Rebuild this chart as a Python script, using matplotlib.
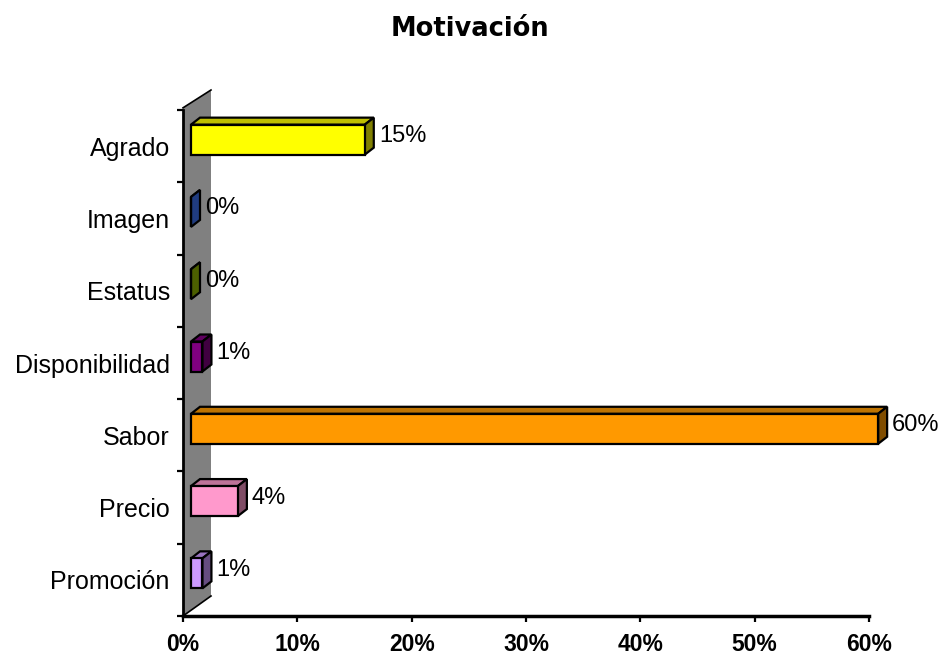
import matplotlib
matplotlib.use("Agg")
import matplotlib.pyplot as plt
from matplotlib.patches import Polygon
import numpy as np

# ---- data ----
categories = ["Agrado", "Imagen", "Estatus", "Disponibilidad", "Sabor", "Precio", "Promoción"]
values = [15.2, 0.0, 0.0, 1.0, 60.1, 4.1, 1.0]
value_labels = ["15%", "0%", "0%", "1%", "60%", "4%", "1%"]
xticks = [0, 10, 20, 30, 40, 50, 60]
xtick_labels = ["0%", "10%", "20%", "30%", "40%", "50%", "60%"]
front_colors = ["#FFFF00", "#4078FF", "#98BE00", "#800080", "#FF9900", "#FF99CC", "#CC99FF"]
title = "Motivación"

W, H = 939, 655
fig = plt.figure(figsize=(W / 100, H / 100), dpi=100)
ax_left, ax_right, ax_top, ax_bottom = 183, 869, 110, 616
ax = fig.add_axes([ax_left / W, (H - ax_bottom) / H, (ax_right - ax_left) / W, (ax_bottom - ax_top) / H])
n = len(categories)
ax.set_xlim(0, 60)
ax.set_ylim(0, n)

pxx = (ax_right - ax_left) / 60.0
pxy = (ax_bottom - ax_top) / n

# wall
wdx, wdy = 28 / pxx, 20 / pxy
wall = Polygon([(0, 0), (wdx, wdy), (wdx, n + wdy), (0, n + 0.03)], closed=True,
               facecolor="#808080", edgecolor="none", clip_on=False, zorder=1)
ax.add_patch(wall)
ax.plot([0, wdx], [n + 0.03, n + wdy], color="black", lw=1.2, clip_on=False, zorder=2)
ax.plot([0, wdx], [0, wdy], color="black", lw=1.2, clip_on=False, zorder=2)

def shade(c, f):
    r, g, b = matplotlib.colors.to_rgb(c)
    return (r * f, g * f, b * f)

x0 = 8 / pxx
bh = 30 / pxy
off = 6.5 / pxy
ddx, ddy = 9 / pxx, 7 / pxy

for i, (cat, v, lab, col) in enumerate(zip(categories, values, value_labels, front_colors)):
    c = n - 0.5 - i
    yb = c + off - bh / 2
    yt = c + off + bh / 2
    top = Polygon([(x0, yt), (x0 + v, yt), (x0 + v + ddx, yt + ddy), (x0 + ddx, yt + ddy)],
                  closed=True, facecolor=shade(col, 0.75), edgecolor="black", lw=1.6, zorder=3,
                  clip_on=False, joinstyle="miter")
    side = Polygon([(x0 + v, yb), (x0 + v, yt), (x0 + v + ddx, yt + ddy), (x0 + v + ddx, yb + ddy)],
                   closed=True, facecolor=shade(col, 0.5), edgecolor="black", lw=1.6, zorder=3,
                   clip_on=False, joinstyle="miter")
    front = Polygon([(x0, yb), (x0 + v, yb), (x0 + v, yt), (x0, yt)],
                    closed=True, facecolor=col, edgecolor="black", lw=1.6, zorder=4,
                    clip_on=False, joinstyle="miter")
    for p in (top, side, front):
        ax.add_patch(p)
    ax.annotate(lab, xy=(x0 + v + ddx, c + off + ddy / 2), xytext=(5, 0),
                textcoords="offset pixels", ha="left", va="center",
                fontsize=17, family="Liberation Sans", color="black", zorder=5,
                annotation_clip=False)

# axes styling
for s in ("top", "right"):
    ax.spines[s].set_visible(False)
ax.spines["left"].set_linewidth(2)
ax.spines["bottom"].set_linewidth(2.5)
ax.spines["left"].set_zorder(6)
ax.spines["bottom"].set_zorder(6)

ax.set_yticks(np.arange(0, n + 1))
ax.set_yticklabels([])
ax.tick_params(axis="y", which="major", length=4, width=1.6, direction="out")
ax.set_yticks([n - 0.5 - i for i in range(n)], minor=True)
ax.set_yticklabels(categories, minor=True, fontsize=18, family="Liberation Sans")
ax.tick_params(axis="y", which="minor", length=0, pad=9.5)

ax.set_xticks(xticks)
ax.set_xticklabels(xtick_labels, fontsize=16.5, family="Liberation Sans", fontweight="bold")
ax.tick_params(axis="x", length=4, width=1.6, direction="out", pad=8)

ax.set_facecolor("none")
fig.text(470 / W, 1 - 29 / H, title, ha="center", va="center", fontsize=18.5,
         fontweight="heavy", family="DejaVu Sans")

fig.savefig("out.png", dpi=100)
